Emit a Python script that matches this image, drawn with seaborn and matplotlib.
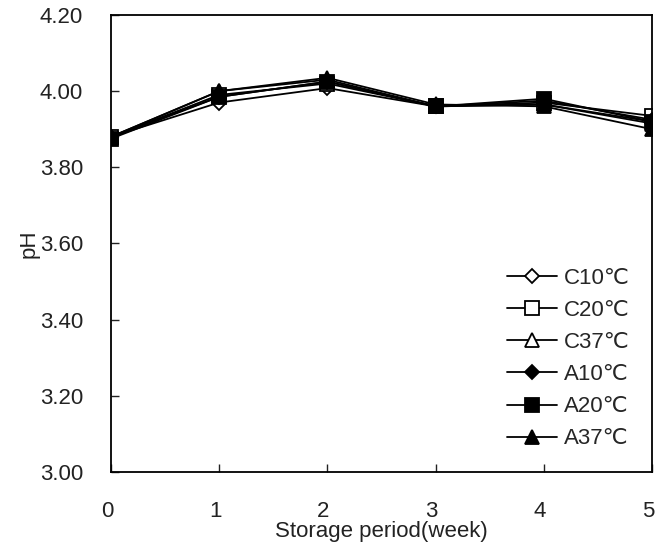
import matplotlib
matplotlib.use("Agg")
import matplotlib.pyplot as plt
import matplotlib.transforms as mtransforms
import seaborn as sns
import pandas as pd

weeks = [0, 1, 2, 3, 4, 5]
C10 = [3.88, 3.97, 4.008, 3.96, 3.965, 3.92]
C20 = [3.88, 3.99, 4.02, 3.96, 3.97, 3.935]
C37 = [3.88, 4.00, 4.03, 3.96, 3.965, 3.915]
A10 = [3.88, 3.985, 4.025, 3.96, 3.975, 3.925]
A20 = [3.875, 3.985, 4.025, 3.96, 3.98, 3.92]
A37 = [3.88, 4.00, 4.035, 3.965, 3.96, 3.90]
labels = ["C10℃", "C20℃", "C37℃", "A10℃", "A20℃", "A37℃"]
series = [C10, C20, C37, A10, A20, A37]
yticks = [3.00, 3.20, 3.40, 3.60, 3.80, 4.00, 4.20]

sns.set_theme(style="white")
plt.rcParams['font.family'] = ['Liberation Sans', 'DejaVu Sans']

fig = plt.figure(figsize=(6.56, 5.48), dpi=100)
ax = fig.add_axes([0.169, 0.1387, 0.825, 0.834])

markers = ["D", "s", "^", "D", "s", "^"]
sizes = [7.5, 9.5, 9.5, 7.5, 9.5, 9.5]
fills = ["white", "white", "white", "black", "black", "black"]

for lab, vals, m, s, f in zip(labels, series, markers, sizes, fills):
    df = pd.DataFrame({"week": weeks, "pH": vals})
    sns.lineplot(data=df, x="week", y="pH", ax=ax, color="black", lw=1.3,
                 marker=m, markersize=s, markerfacecolor=f, markeredgecolor="black",
                 markeredgewidth=1.3, label=lab)

ax.set_xlim(0, 5)
ax.set_ylim(3.0, 4.2)
ax.set_yticks(yticks)
ax.set_yticklabels([f"{v:.2f}" for v in yticks])
ax.set_xticks(weeks)
ax.tick_params(direction="in", length=6, width=1, labelsize=16, colors="#222222",
               left=True, bottom=True)
ax.tick_params(axis="y", pad=20)
ax.tick_params(axis="x", pad=21)
shift = mtransforms.ScaledTranslation(-4 / 100, 0, fig.dpi_scale_trans)
for t in ax.get_xticklabels():
    t.set_transform(t.get_transform() + shift)
for sp in ax.spines.values():
    sp.set_color("black")
    sp.set_linewidth(1.3)
ax.set_xlabel("Storage period(week)", fontsize=16, labelpad=-1, color="#222222")
ax.set_ylabel("pH", fontsize=16, labelpad=0, color="#222222")
leg = ax.legend(loc="lower right", frameon=False, fontsize=16, handlelength=2.25,
                labelspacing=0.5, handletextpad=0.3, borderaxespad=0,
                bbox_to_anchor=(0.975, 0.03))
fig.savefig("out.png", dpi=100)
